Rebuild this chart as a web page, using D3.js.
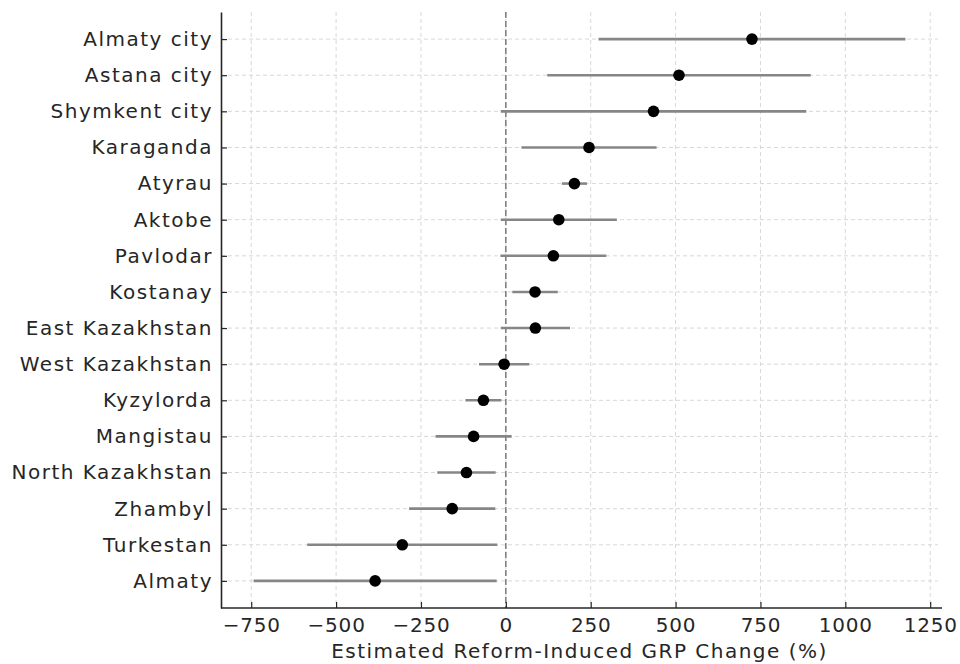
<!DOCTYPE html>
<html>
<head>
<meta charset="utf-8">
<script src="https://cdn.jsdelivr.net/npm/d3@7"></script>
<style>
  body { margin: 0; background: #fff; }
  svg { font-family: "DejaVu Sans", sans-serif; }
</style>
</head>
<body>
<svg id="chart" width="960" height="664"></svg>
<script>
// regions, top to bottom
const regions = ["Almaty city", "Astana city", "Shymkent city", "Karaganda", "Atyrau", "Aktobe",
  "Pavlodar", "Kostanay", "East Kazakhstan", "West Kazakhstan", "Kyzylorda", "Mangistau",
  "North Kazakhstan", "Zhambyl", "Turkestan", "Almaty"];
// point estimate of GRP change (%)
const estimates = [725, 510, 435, 245, 202, 156, 140, 86, 87, -5, -66, -95, -116, -158, -305, -385];
// half-width of the interval
const errors = [452, 388, 450, 199, 37, 171, 156, 67, 102, 74, 53, 112, 86, 127, 280, 358];
const xTicks = [-750, -500, -250, 0, 250, 500, 750, 1000, 1250];

const data = regions.map((r, i) => ({ region: r, v: estimates[i], e: errors[i] }));

const m = { left: 221, right: 938, top: 12, bottom: 608 };
const svg = d3.select("#chart");

const lo = d3.min(data, d => d.v - d.e), hi = d3.max(data, d => d.v + d.e);
const pad = (hi - lo) * 0.05;
const x = d3.scaleLinear().domain([lo - pad, hi + pad]).range([m.left, m.right]);
const y = d3.scalePoint().domain(regions).range([m.top, m.bottom]).padding(0.75);

// grid
const grid = svg.append("g").attr("stroke", "#d8d8d8").attr("stroke-width", 1).attr("stroke-dasharray", "4,3");
grid.selectAll(".gx").data(xTicks).join("line")
  .attr("x1", d => x(d)).attr("x2", d => x(d))
  .attr("y1", m.top).attr("y2", m.bottom);
grid.selectAll(".gy").data(regions).join("line")
  .attr("x1", m.left).attr("x2", m.right)
  .attr("y1", d => y(d)).attr("y2", d => y(d));

// zero reference
svg.append("line")
  .attr("x1", x(0)).attr("x2", x(0))
  .attr("y1", m.top).attr("y2", m.bottom)
  .attr("stroke", "#7a7a7a").attr("stroke-width", 1.5).attr("stroke-dasharray", "6,3");

// error bars
svg.append("g").selectAll("line").data(data).join("line")
  .attr("x1", d => x(d.v - d.e)).attr("x2", d => x(d.v + d.e))
  .attr("y1", d => y(d.region)).attr("y2", d => y(d.region))
  .attr("stroke", "#868686").attr("stroke-width", 2.6);

// points
svg.append("g").selectAll("circle").data(data).join("circle")
  .attr("cx", d => x(d.v)).attr("cy", d => y(d.region))
  .attr("r", 5.8).attr("fill", "#000");

// axes
const xAxis = svg.append("g")
  .attr("transform", `translate(0,${m.bottom})`)
  .call(d3.axisBottom(x).tickValues(xTicks).tickFormat(d3.format("")).tickSizeInner(-6).tickSizeOuter(0).tickPadding(10));
const yAxis = svg.append("g")
  .attr("transform", `translate(${m.left},0)`)
  .call(d3.axisLeft(y).tickSizeInner(-6).tickSizeOuter(0).tickPadding(8));

[xAxis, yAxis].forEach(a => {
  a.select(".domain").attr("stroke", "#262626").attr("stroke-width", 1.6);
  a.selectAll(".tick line").attr("stroke", "#262626").attr("stroke-width", 1.2);
  a.selectAll(".tick text").attr("fill", "#262626").attr("font-size", 20)
    .attr("font-family", "DejaVu Sans, sans-serif");
});
xAxis.selectAll(".tick text").attr("letter-spacing", 0.8);
yAxis.selectAll(".tick text").attr("letter-spacing", 1.5);
xAxis.select(".domain").attr("d", `M${m.left},0H${m.right + 4}`);

svg.append("text")
  .attr("x", (m.left + m.right) / 2).attr("y", 658)
  .attr("text-anchor", "middle").attr("font-size", 20).attr("fill", "#262626")
  .attr("letter-spacing", 1.5)
  .text("Estimated Reform-Induced GRP Change (%)");
</script>
</body>
</html>
